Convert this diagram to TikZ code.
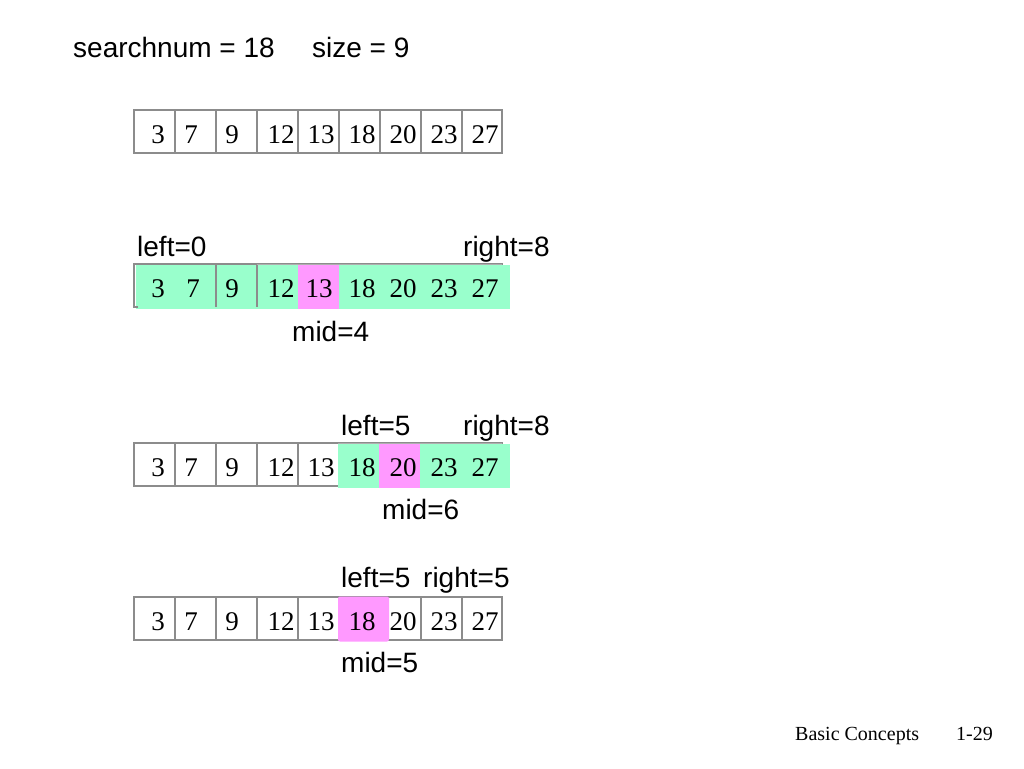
\documentclass[tikz,border=0pt]{standalone}
\usepackage{fontspec}
\setmainfont{Liberation Serif}
\newfontfamily\arialf{Liberation Sans}
\definecolor{mint}{RGB}{153,255,204}
\definecolor{pinkc}{RGB}{255,153,255}
\definecolor{gridc}{RGB}{140,140,140}
\begin{document}
\begin{tikzpicture}[x=1pt,y=-1pt,
  lab/.style={font=\arialf\fontsize{28}{30}\selectfont, anchor=base west, inner sep=0pt},
  num/.style={font=\fontsize{27}{29}\selectfont, anchor=base, inner sep=0pt},
  foot/.style={font=\fontsize{20}{22}\selectfont, anchor=base west, inner sep=0pt},
  cellline/.style={draw=gridc, line width=1.2pt},
  faint/.style={draw=gridc!70, line width=0.7pt},
  greenfill/.style={fill=mint, draw=none},
  pinkfill/.style={fill=pinkc, draw=none}]
\useasboundingbox[fill=white] (0,0) rectangle (1024,768);

% title
\node[lab] (title1) at (73,58) {searchnum = 18};
\node[lab] (title2) at (312,58) {size = 9};

% ---------- row 1 ----------
\draw[cellline] (134,110) rectangle (502,153);
\foreach \x in {175,216,257,298,339,380,421,462} \draw[cellline] (\x,110) -- (\x,153);
\foreach \x/\v [count=\i] in {158/3,191/7,232/9,281/12,321/13,362/18,403/20,444/23,485/27}
  \node[num] (ra\i) at (\x,143) {\v};

% ---------- row 2 ----------
\draw[cellline] (134,264) rectangle (502,307);
\foreach \x in {175,216,257,298,339,380,421,462} \draw[cellline] (\x,264) -- (\x,307);
\fill[greenfill] (136,265) rectangle (510,309);
\fill[pinkfill] (298,265) rectangle (339,309);
\draw[cellline] (134,264) -- (134,307);
\draw[cellline] (134,264) -- (138,264);
\draw[cellline] (134,307) -- (138,307);
\draw[cellline] (216,265) -- (216,307);
\draw[cellline] (257,265) -- (257,307);
\draw[faint] (257,264.5) -- (502,264.5);
\foreach \x/\v [count=\i] in {158/3,193/7,232/9,281/12,319/13,362/18,403/20,444/23,485/27}
  \node[num] (rb\i) at (\x,297) {\v};
\node[lab] (left0) at (137,256) {left=0};
\node[lab] (right8a) at (463,256) {right=8};
\node[lab] (mid4) at (292,341) {mid=4};

% ---------- row 3 ----------
\draw[cellline] (134,443) rectangle (502,486);
\foreach \x in {175,216,257,298,339,380,421,462} \draw[cellline] (\x,443) -- (\x,486);
\fill[greenfill] (338,443.6) rectangle (510,488);
\fill[pinkfill] (379,443.6) rectangle (420,488);
\draw[faint] (338,443.5) -- (502,443.5);
\foreach \x/\v [count=\i] in {158/3,191/7,232/9,281/12,321/13,362/18,403/20,444/23,485/27}
  \node[num] (rc\i) at (\x,476) {\v};
\node[lab] (left5a) at (341,435) {left=5};
\node[lab] (right8b) at (463,435) {right=8};
\node[lab] (mid6) at (382,519) {mid=6};

% ---------- row 4 ----------
\draw[cellline] (134,597) rectangle (502,640);
\foreach \x in {175,216,257,298,339,380,421,462} \draw[cellline] (\x,597) -- (\x,640);
\fill[pinkfill, rounded corners=2pt] (338,596.5) rectangle (389,641.5);
\foreach \x/\v [count=\i] in {158/3,191/7,232/9,281/12,321/13,362/18,403/20,444/23,485/27}
  \node[num] (rd\i) at (\x,630) {\v};
\node[lab] (left5b) at (341,587) {left=5};
\node[lab] (right5) at (423,587) {right=5};
\node[lab] (mid5) at (341,672) {mid=5};

% footer
\node[foot] (footer1) at (795,740) {Basic Concepts};
\node[foot] (footer2) at (956,740) {1-29};
\end{tikzpicture}
\end{document}
